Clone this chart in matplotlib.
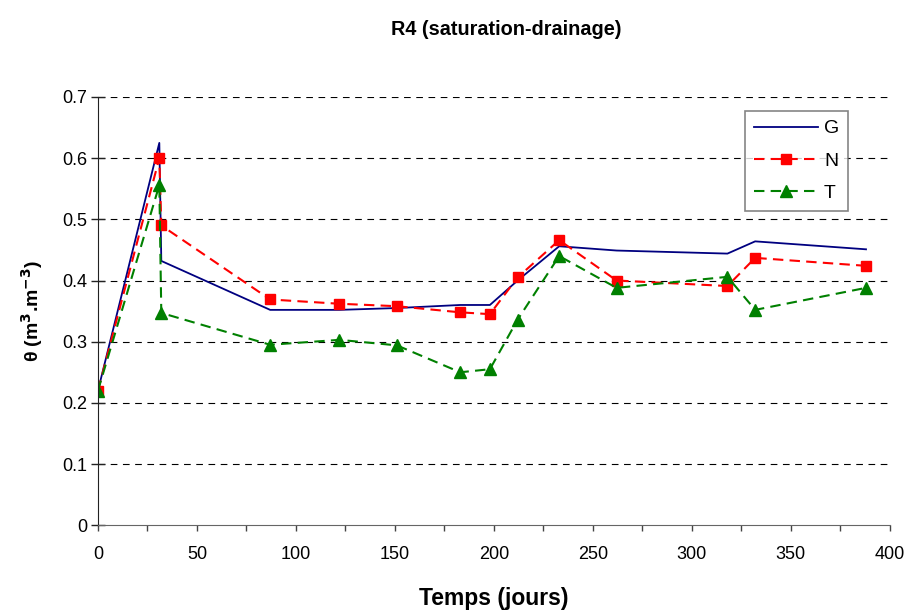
import matplotlib.pyplot as plt

plt.rcParams['font.family'] = ['Liberation Sans', 'DejaVu Sans']

# data
jours = [0, 31, 32, 87, 122, 151, 183, 198, 212, 233, 262, 318, 332, 388]
theta_G = [0.22, 0.625, 0.432, 0.352, 0.352, 0.355, 0.36, 0.36, 0.40, 0.456, 0.449, 0.444, 0.464, 0.451]
theta_N = [0.22, 0.600, 0.490, 0.369, 0.362, 0.358, 0.348, 0.345, 0.405, 0.466, 0.400, 0.391, 0.437, 0.424]
theta_T = [0.22, 0.556, 0.347, 0.295, 0.303, 0.294, 0.250, 0.255, 0.336, 0.440, 0.388, 0.406, 0.352, 0.388]

fig = plt.figure(figsize=(9.07, 6.10), dpi=100)
ax = fig.add_axes([0.108, 0.139, 0.873, 0.702])

ax.plot(jours, theta_G, color='#000080', lw=1.3, label='G')
ax.plot(jours, theta_N, color='#ff0000', lw=1.5, ls=(0, (5, 3)), marker='s',
        ms=7, label='N')
ax.plot(jours, theta_T, color='#008000', lw=1.5, ls=(0, (5, 3)), marker='^',
        ms=8, label='T')

ax.set_xlim(0, 400)
ax.set_ylim(0, 0.7)
ax.set_xticks(range(0, 401, 50))
ax.set_xticks(range(25, 400, 50), minor=True)
ax.set_yticks([0, 0.1, 0.2, 0.3, 0.4, 0.5, 0.6, 0.7])
ax.set_yticklabels(['0', '0.1', '0.2', '0.3', '0.4', '0.5', '0.6', '0.7'])

for y in [0.1, 0.2, 0.3, 0.4, 0.5, 0.6, 0.7]:
    ax.axhline(y, color='black', lw=0.8, ls=(0, (6, 5)), zorder=0)

for s in ['top', 'right']:
    ax.spines[s].set_visible(False)
ax.spines['left'].set_color('#222222')
ax.spines['bottom'].set_color('#666666')
ax.tick_params(axis='x', which='both', labelsize=13, direction='out', length=4,
               color='#444444', width=1, pad=11)
ax.tick_params(axis='y', labelsize=13, direction='inout', length=9.5,
               color='#222222', width=1, pad=3)

fig.text(0.558, 0.951, 'R4 (saturation-drainage)', fontsize=14.3,
         fontweight='bold', ha='center', va='center')
ax.set_xlabel('Temps (jours)', fontsize=16.5, fontweight='bold', labelpad=17)
ax.set_ylabel(r'θ (m$^{\mathbf{3}}$.m$^{\mathbf{-3}}$)', fontsize=14,
              fontweight='bold', labelpad=12)

leg = ax.legend(loc='upper right', bbox_to_anchor=(848 / 907, 1 - 111 / 610),
                bbox_transform=fig.transFigure, fontsize=14, numpoints=1,
                frameon=True, fancybox=False, edgecolor='#666666',
                handlelength=3.3, borderpad=0.45, borderaxespad=0,
                labelspacing=0.75, handletextpad=0.3)
leg.get_frame().set_linewidth(1.2)

plt.savefig('out.png', dpi=100)
plt.close()
